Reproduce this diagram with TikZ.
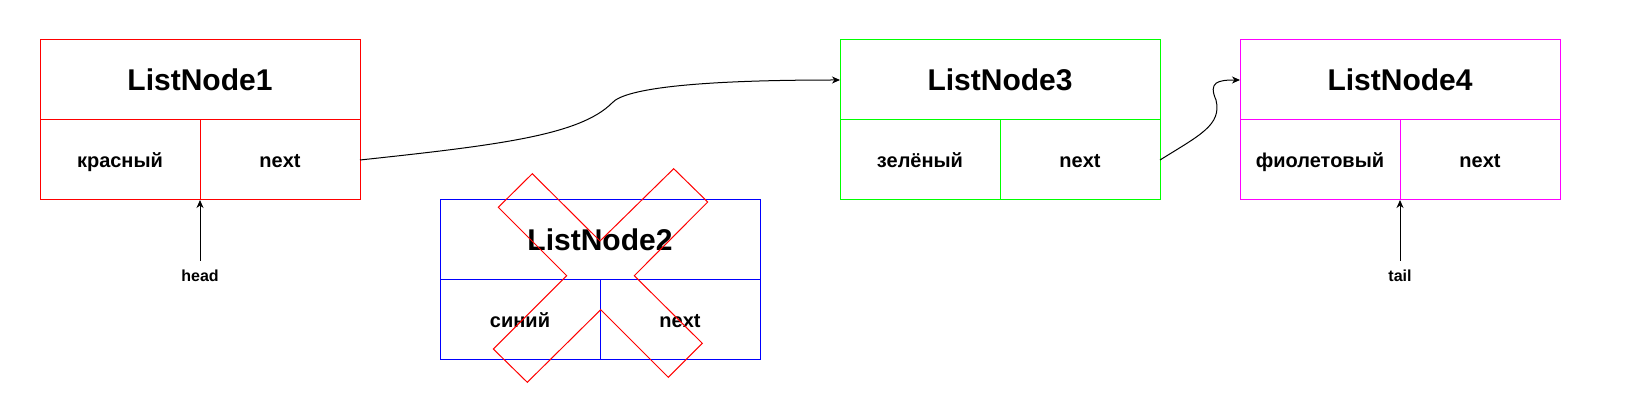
\documentclass[tikz,border=0pt]{standalone}
\usepackage{fontspec}
\setmainfont{Liberation Sans}
\usetikzlibrary{arrows.meta}
\begin{document}
\begin{tikzpicture}[x=1pt,y=-1pt,
  every node/.style={inner sep=0pt,outer sep=0pt,font=\bfseries},
  titlebox/.style={rectangle,line width=1pt,minimum width=320pt,minimum height=80pt,
    text height=22pt,text depth=0pt,font=\fontsize{30}{36}\selectfont\bfseries},
  cellbox/.style={rectangle,line width=1pt,minimum width=160pt,minimum height=80pt,
    text height=15pt,text depth=0pt,font=\fontsize{20}{24}\selectfont\bfseries},
  lbl/.style={anchor=base,font=\fontsize{16}{19}\selectfont\bfseries},
  link/.style={draw=black,line width=1pt,-{Stealth[length=8pt,width=7pt,inset=2.5pt]}},
  cross/.style={draw=red,line width=1pt,line join=miter}]
\useasboundingbox (0,0) rectangle (1639,403);
\definecolor{cred}{HTML}{FF0000}
\definecolor{cgreen}{HTML}{00FF00}
\definecolor{cmag}{HTML}{FF00FF}
\definecolor{cblue}{HTML}{0000FF}
% ListNode1
\node[titlebox,draw=cred] (n1) at (200,80) {ListNode1};
\node[cellbox,draw=cred] (n1v) at (120,160) {красный};
\node[cellbox,draw=cred] (n1n) at (280,160) {next};
% ListNode2
\node[titlebox,draw=cblue] (n2) at (600,240) {ListNode2};
\node[cellbox,draw=cblue] (n2v) at (520,320) {синий};
\node[cellbox,draw=cblue] (n2n) at (680,320) {next};
% ListNode3
\node[titlebox,draw=cgreen] (n3) at (1000,80) {ListNode3};
\node[cellbox,draw=cgreen] (n3v) at (920,160) {зелёный};
\node[cellbox,draw=cgreen] (n3n) at (1080,160) {next};
% ListNode4
\node[titlebox,draw=cmag] (n4) at (1400,80) {ListNode4};
\node[cellbox,draw=cmag] (n4v) at (1320,160) {фиолетовый};
\node[cellbox,draw=cmag] (n4n) at (1480,160) {next};
% labels
\node[lbl] (head) at (200,281.5) {head};
\node[lbl] (tail) at (1400,281.5) {tail};
% links
\draw[link] (n1n.east) .. controls (500,145) and (580,135) .. (612,103)
  .. controls (625,88) and (700,80) .. (n3.west);
\draw[link] (n3n.east) .. controls (1200,135) and (1222,125) .. (1216,100)
  .. controls (1208,82) and (1218,80) .. (n4.west);
\draw[link] ([yshift=9pt]head.north) -- (n1v.south east);
\draw[link] ([yshift=9pt]tail.north) -- (n4v.south east);
% red cross over ListNode2
\draw[cross] (532.3,173.7) -- (600,241) -- (673.7,168.7) -- (707.7,202)
  -- (634.3,275.7) -- (702.3,343.3) -- (668.3,377.3) -- (600.7,309.7)
  -- (527.3,382.3) -- (493.3,349) -- (566.7,275.7) -- (498.3,207.3) -- cycle;
\end{tikzpicture}
\end{document}
